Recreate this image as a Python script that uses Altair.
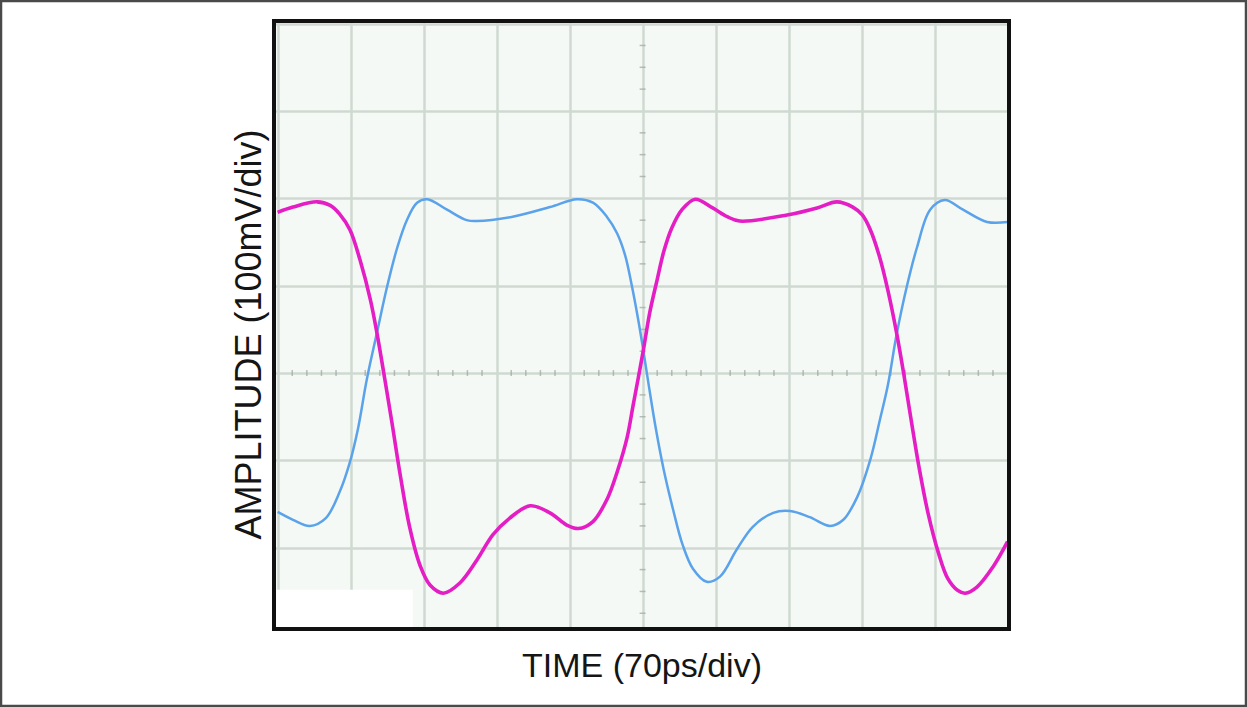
import altair as alt
import pandas as pd

# Time in divisions (70 ps/div), amplitude in divisions (100 mV/div)
mag_x = [0.0, 0.21, 0.54, 0.72, 0.85, 0.99, 1.13, 1.27, 1.36, 1.47, 1.57, 1.68, 1.81, 1.95,
         2.09, 2.27, 2.50, 2.73, 2.95, 3.18, 3.46, 3.73, 3.96, 4.12, 4.32, 4.51, 4.66, 4.79,
         4.87, 4.94, 5.01, 5.10, 5.20, 5.29, 5.40, 5.54, 5.72, 5.96, 6.16, 6.33, 6.98, 7.39,
         7.66, 7.88, 8.01, 8.12, 8.25, 8.36, 8.48, 8.58, 8.68, 8.79, 8.91, 9.05, 9.18, 9.32,
         9.42, 9.58, 9.80, 10.0]
mag_y = [1.84, 1.90, 1.96, 1.92, 1.82, 1.64, 1.29, 0.84, 0.46, -0.08, -0.59, -1.17, -1.77, -2.20,
         -2.43, -2.52, -2.40, -2.14, -1.85, -1.66, -1.52, -1.60, -1.74, -1.78, -1.70, -1.45, -1.11, -0.73,
         -0.37, -0.06, 0.26, 0.70, 1.07, 1.39, 1.66, 1.87, 1.99, 1.89, 1.79, 1.74, 1.81, 1.89,
         1.96, 1.90, 1.81, 1.64, 1.32, 0.95, 0.46, -0.02, -0.54, -1.09, -1.60, -2.05, -2.35, -2.49,
         -2.52, -2.45, -2.22, -1.93]

blue_x = [0.0, 0.21, 0.44, 0.66, 0.85, 0.99, 1.10, 1.22, 1.36, 1.50, 1.64, 1.77, 1.91, 2.05,
          2.32, 2.59, 2.73, 3.22, 3.73, 4.10, 4.32, 4.51, 4.65, 4.76, 4.85, 4.94, 5.01, 5.09,
          5.18, 5.29, 5.42, 5.55, 5.69, 5.88, 6.06, 6.29, 6.51, 6.79, 7.02, 7.29, 7.57, 7.75,
          7.94, 8.12, 8.25, 8.36, 8.48, 8.62, 8.76, 8.94, 9.14, 9.39, 9.72, 10.0]
blue_y = [-1.59, -1.68, -1.75, -1.66, -1.36, -1.02, -0.64, -0.08, 0.46, 0.99, 1.44, 1.75, 1.95, 1.99,
          1.87, 1.75, 1.74, 1.79, 1.90, 1.99, 1.95, 1.79, 1.60, 1.35, 1.01, 0.61, 0.26, -0.17,
          -0.63, -1.11, -1.57, -1.97, -2.24, -2.39, -2.33, -2.02, -1.76, -1.60, -1.58, -1.65, -1.75, -1.68,
          -1.42, -0.99, -0.54, -0.14, 0.44, 0.99, 1.44, 1.87, 1.98, 1.87, 1.73, 1.73]

x_grid = [0, 1, 2, 3, 4, 5, 6, 7, 8, 9, 10]
y_grid = [-3, -2, -1, 0, 1, 2, 3, 4]

x_minor = [i / 5 for i in range(0, 51) if i % 5 != 0]
y_minor = [j / 4 for j in range(-11, 16) if j % 4 != 0]

patch_x, patch_x2, patch_y, patch_y2 = [-0.05], [1.85], [-2.93], [-2.48]

mag_df = pd.DataFrame({"x": mag_x, "y": mag_y})
blue_df = pd.DataFrame({"x": blue_x, "y": blue_y})
xminor_df = pd.DataFrame({"x": x_minor, "y": [0.0] * len(x_minor)})
yminor_df = pd.DataFrame({"x": [5.0] * len(y_minor), "y": y_minor})
patch_df = pd.DataFrame({"x": patch_x, "x2": patch_x2, "y": patch_y, "y2": patch_y2})

FONT = "Liberation Sans"
GRID = "#cfd9d2"

xscale = alt.Scale(domain=[-0.05, 10.02], nice=False, zero=False)
yscale = alt.Scale(domain=[-2.93, 4.03], nice=False, zero=False)

xaxis = alt.Axis(values=x_grid, grid=True, gridColor=GRID, gridWidth=2.5, labels=False, ticks=False,
                 domain=False, title="TIME (70ps/div)", titleFont=FONT, titleFontSize=34,
                 titleFontWeight="normal", titleColor="#151515", titlePadding=20)
yaxis = alt.Axis(values=y_grid, grid=True, gridColor=GRID, gridWidth=2.5, labels=False, ticks=False,
                 domain=False, title="AMPLITUDE (100mV/div)", titleFont=FONT, titleFontSize=36,
                 titleFontWeight="normal", titleColor="#151515", titlePadding=6, titleY=313)

X = alt.X("x:Q", scale=xscale, axis=xaxis)
Y = alt.Y("y:Q", scale=yscale, axis=yaxis)

patch = alt.Chart(patch_df).mark_rect(color="white").encode(x=X, x2="x2", y=Y, y2="y2")

xticks = alt.Chart(xminor_df).mark_tick(orient="vertical", size=6, thickness=1.5, color="#9aa69e").encode(x=X, y=Y)
yticks = alt.Chart(yminor_df).mark_tick(orient="horizontal", size=6, thickness=1.5, color="#9aa69e").encode(x=X, y=Y)

blue = alt.Chart(blue_df).mark_line(color="#5aa2ea", strokeWidth=2.5, interpolate="catmull-rom").encode(
    x=X, y=Y, order="x:Q")
mag = alt.Chart(mag_df).mark_line(color="#e41ec4", strokeWidth=3.6, interpolate="catmull-rom").encode(
    x=X, y=Y, order="x:Q")

frame = alt.Chart(patch_df).mark_rect(filled=False, stroke="#111111", strokeWidth=4, clip=False).encode(
    x=alt.value(0), x2=alt.value(735), y=alt.value(0), y2=alt.value(608))

border = alt.Chart(patch_df).mark_rect(filled=False, stroke="#4a4a4a", strokeWidth=2.5, clip=False).encode(
    x=alt.value(-273), x2=alt.value(972), y=alt.value(-20), y2=alt.value(685))

chart = alt.layer(patch, xticks, yticks, blue, mag, frame, border).properties(
    width=735, height=608,
    autosize=alt.AutoSizeParams(type="none"),
    padding={"left": 274, "top": 21, "right": 238, "bottom": 78},
    background="white",
).configure_view(stroke=None, fill="#f5f9f6")

chart.save("out.html", embed_options={"renderer": "svg", "actions": False})
